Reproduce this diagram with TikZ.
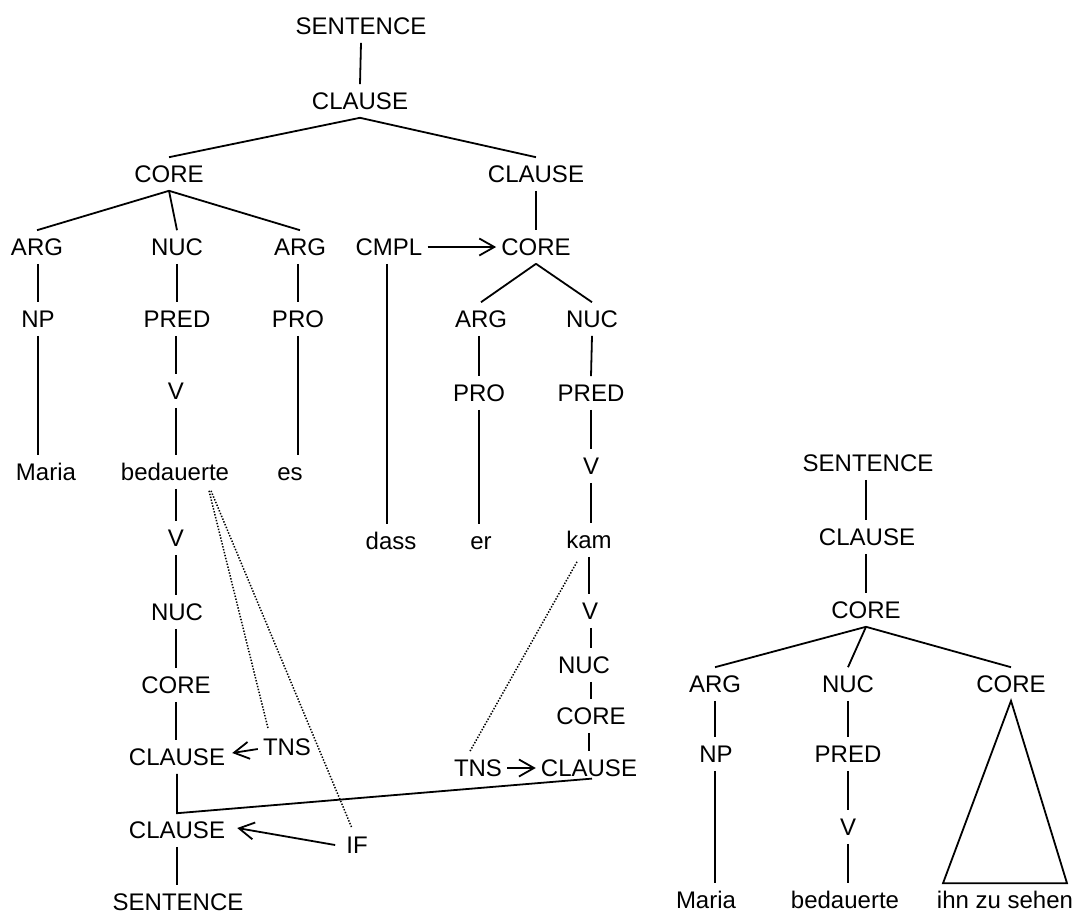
\documentclass[tikz,border=0pt]{standalone}
\usepackage{fontspec}
\setmainfont{Liberation Sans}
\usetikzlibrary{arrows.meta}
\begin{document}
\begin{tikzpicture}[x=1pt,y=-1pt,
  lbl/.style={font=\fontsize{24}{28}\selectfont, inner xsep=5pt, inner ysep=8pt,
              text height=17.2pt, text depth=0pt, anchor=center},
  edge/.style={line width=1.8pt},
  arr/.style={line width=1.8pt, -{Straight Barb[length=15pt,width=17pt,line width=1.8pt]}},
  dots/.style={line width=1.5pt, dash pattern=on 1.4pt off 1.6pt}]
\useasboundingbox (0,0) rectangle (1078,913);
% ---------- main tree ----------
\node[lbl] (s1) at (361,26) {SENTENCE};
\node[lbl] (cl1) at (360,101) {CLAUSE};
\node[lbl] (co1) at (169,174) {CORE};
\node[lbl] (cl2) at (536,174) {CLAUSE};
\node[lbl] (arg1) at (37,247) {ARG};
\node[lbl] (nuc1) at (177,247) {NUC};
\node[lbl] (arg2) at (300,247) {ARG};
\node[lbl] (cmpl) at (389,247) {CMPL};
\node[lbl] (co2) at (536,247) {CORE};
\node[lbl] (np1) at (38,319) {NP};
\node[lbl] (pred1) at (177,319) {PRED};
\node[lbl] (pro1) at (298,319) {PRO};
\node[lbl] (arg3) at (481,319) {ARG};
\node[lbl] (nuc2) at (592,319) {NUC};
\node[lbl] (v1) at (176,391) {V};
\node[lbl] (pro2) at (479,393) {PRO};
\node[lbl] (pred2) at (591,393) {PRED};
\node[lbl] (maria1) at (46,472) {Maria};
\node[lbl] (bed1) at (175,472) {bedauerte};
\node[lbl] (es) at (290,472) {es};
\node[lbl] (v2) at (591,466) {V};
\node[lbl] (dass) at (391,541) {dass};
\node[lbl] (er) at (481,541) {er};
\node[lbl] (kam) at (589,540) {kam};
% lower left
\node[lbl] (v3) at (176,538) {V};
\node[lbl] (nuc3) at (177,612) {NUC};
\node[lbl] (co3) at (176,685) {CORE};
\node[lbl] (cl3) at (177,757) {CLAUSE};
\node[lbl] (tns1) at (287,747) {TNS};
\node[lbl] (cl4) at (177,830) {CLAUSE};
\node[lbl] (s2) at (178,902) {SENTENCE};
\node[lbl] (if) at (357,845) {IF};
% lower right
\node[lbl] (v4) at (590,611) {V};
\node[lbl] (nuc4) at (584,665) {NUC};
\node[lbl] (co4) at (591,716) {CORE};
\node[lbl] (cl5) at (589,768) {CLAUSE};
\node[lbl] (tns2) at (478,768) {TNS};

\draw[edge] (s1.south) -- (cl1.north);
\draw[edge] (cl1.south) -- (co1.north);
\draw[edge] (cl1.south) -- (cl2.north);
\draw[edge] (co1.south) -- (arg1.north);
\draw[edge] (co1.south) -- (nuc1.north);
\draw[edge] (co1.south) -- (arg2.north);
\draw[edge] (cl2.south) -- (co2.north);
\draw[arr] (cmpl.east) -- (co2.west);
\draw[edge] (co2.south) -- (arg3.north);
\draw[edge] (co2.south) -- (nuc2.north);
\draw[edge] (arg1.south -| np1) -- (np1.north);
\draw[edge] (nuc1.south) -- (pred1.north);
\draw[edge] (arg2.south -| pro1) -- (pro1.north);
\draw[edge] (arg3.south -| pro2) -- (pro2.north);
\draw[edge] (nuc2.south) -- (pred2.north);
\draw[edge] (np1.south) -- (np1.south |- maria1.north);
\draw[edge] (pred1.south -| v1) -- (v1.north);
\draw[edge] (v1.south) -- (v1.south |- bed1.north);
\draw[edge] (pro1.south) -- (pro1.south |- es.north);
\draw[edge] (pro2.south) -- (pro2.south |- er.north);
\draw[edge] (pred2.south) -- (v2.north);
\draw[edge] (v2.south) -- (v2.south |- kam.north);
\draw[edge] ([xshift=-2pt]cmpl.south) -- ([xshift=-2pt]cmpl.south |- dass.north);
% lower left chain
\draw[edge] (v3.north |- bed1.south) -- (v3.north);
\draw[edge] (v3.south) -- (v3.south |- nuc3.north);
\draw[edge] (nuc3.south -| co3) -- (co3.north);
\draw[edge] (co3.south) -- (co3.south |- cl3.north);
\draw[edge] (cl3.south) -- (cl4.north) -- ([shift={(3pt,-2pt)}]cl5.base);
\draw[edge] (cl4.south) -- (cl4.south |- s2.north);
\draw[arr] ([yshift=-2pt]tns1.west) -- ([xshift=2pt,yshift=4pt]cl3.east);
\draw[arr] ([xshift=-6pt]if.west) -- ([xshift=7pt,yshift=2pt]cl4.east);
% lower right chain
\draw[edge] (kam.south) -- (kam.south |- v4.north);
\draw[edge] (co4.north |- v4.south) -- (co4.north |- nuc4.north);
\draw[edge] (co4.north |- nuc4.south) -- (co4.north);
\draw[edge] (co4.south -| cl5) -- (cl5.north);
\draw[arr] (tns2.east) -- (cl5.west);
% dotted links
\draw[dots] ([xshift=34pt,yshift=-2pt]bed1.south) -- ([xshift=-19pt,yshift=2pt]tns1.north);
\draw[dots] ([xshift=36pt,yshift=-2pt]bed1.south) -- ([xshift=-5pt]if.north);
\draw[dots] ([xshift=-12pt,yshift=-5pt]kam.south) -- ([xshift=-8pt]tns2.north);
% ---------- right tree ----------
\node[lbl] (s3) at (868,463) {SENTENCE};
\node[lbl] (cl6) at (867,537) {CLAUSE};
\node[lbl] (co6) at (866,610) {CORE};
\node[lbl] (arg6) at (715,684) {ARG};
\node[lbl] (nuc6) at (848,684) {NUC};
\node[lbl] (co7) at (1011,684) {CORE};
\node[lbl] (np6) at (716,754) {NP};
\node[lbl] (pred6) at (848,754) {PRED};
\node[lbl] (v6) at (848,827) {V};
\node[lbl] (maria6) at (706,900) {Maria};
\node[lbl] (bed6) at (845,900) {bedauerte};
\node[lbl] (ihn) at (1005,900) {ihn zu sehen};
\draw[edge] (s3.south -| co6) -- (co6.north |- cl6.north);
\draw[edge] (co6.north |- cl6.south) -- (co6.north);
\draw[edge] (co6.south) -- (arg6.north);
\draw[edge] (co6.south) -- (nuc6.north);
\draw[edge] (co6.south) -- (co7.north);
\draw[edge] (arg6.south) -- (arg6.south |- np6.north);
\draw[edge] (arg6.south |- np6.south) -- (arg6.south |- maria6.north);
\draw[edge] (nuc6.south) -- (pred6.north);
\draw[edge] (pred6.south) -- (v6.north);
\draw[edge] (v6.south) -- (v6.south |- bed6.north);
\draw[edge, line join=miter] (co7.south) -- ([xshift=-62pt]ihn.north) -- ([xshift=62pt]ihn.north) -- cycle;
\end{tikzpicture}
\end{document}
